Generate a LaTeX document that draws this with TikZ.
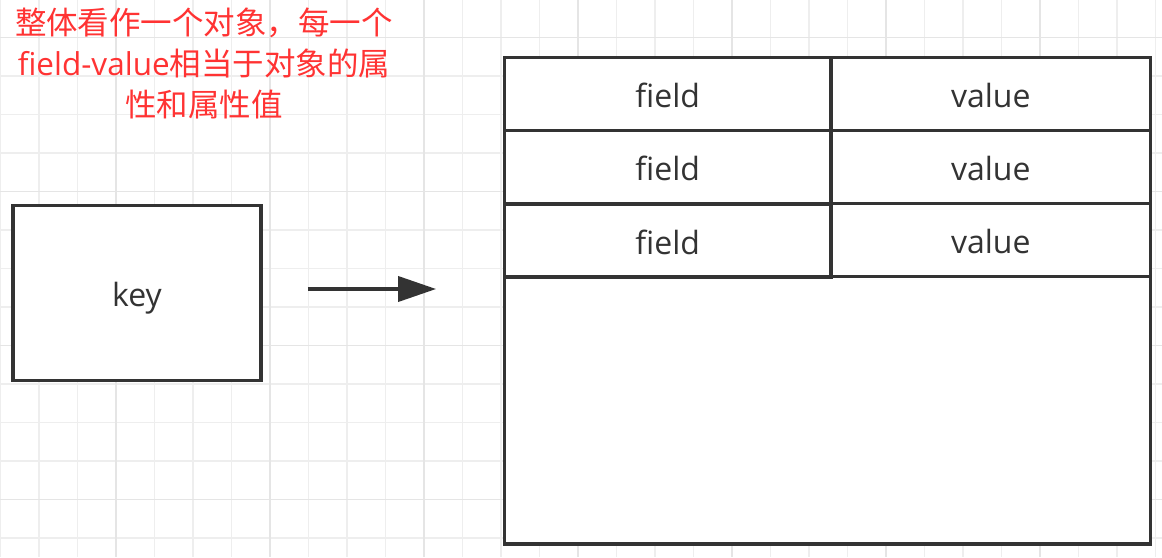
\documentclass[tikz,border=0pt]{standalone}
\usepackage{fontspec}
\setmainfont{Open Sans}
\newfontfamily\cjk{Noto Sans CJK SC}
\usetikzlibrary{arrows.meta}
\definecolor{ln}{HTML}{333333}
\definecolor{gridminor}{HTML}{EEEEEE}
\definecolor{gridmajor}{HTML}{E5E5E5}
\definecolor{note}{HTML}{FF3333}
\begin{document}
\begin{tikzpicture}[x=1pt,y=-1pt,
  box/.style={draw=ln, line width=3.8pt, fill=white, inner sep=0pt, text=ln,
    font=\fontsize{32}{38}\selectfont, text height=29pt, text depth=2pt},
  fcell/.style={box, minimum width=326.5pt, minimum height=73pt},
  vcell/.style={box, minimum width=319.5pt, minimum height=73pt},
  arr/.style={draw=ln, line width=3.8pt, -{Triangle[length=38pt,width=25pt]}},
  notetext/.style={text=note, align=center, inner sep=0pt,
    font=\fontsize{31.5}{41}\selectfont}]
\useasboundingbox[fill=white] (0,0) rectangle (1162,557);
% grid
\foreach \i in {0,...,30} \draw[gridminor, line width=1.2pt] (0.5+38.5*\i,0) -- (0.5+38.5*\i,557);
\foreach \j in {0,...,14} \draw[gridminor, line width=1.2pt] (0,-1+38.5*\j) -- (1162,-1+38.5*\j);
\foreach \i in {3,7,...,27} \draw[gridmajor, line width=1.2pt] (0.5+38.5*\i,0) -- (0.5+38.5*\i,557);
\foreach \j in {1,5,9,13} \draw[gridmajor, line width=1.2pt] (0,-1+38.5*\j) -- (1162,-1+38.5*\j);
% note
\node[notetext] (note) at (204,63) {{\cjk 整体看作一个对象，每一个}\\field-value{\cjk 相当于对象的属}\\{\cjk 性和属性值}};
% key
\node[box, minimum width=248pt, minimum height=175pt] (key) at (137,293) {key};
% table
\node[box, minimum width=646pt, minimum height=486.5pt] (tbl) at (827.5,300.75) {};
\node[vcell] (v1) at (990.75,94) {value};
\node[vcell] (v2) at (990.75,167) {value};
\node[vcell] (v3) at (990.75,240) {value};
\node[fcell] (f1) at (667.75,94) {field};
\node[fcell] (f2) at (667.75,167) {field};
\node[fcell] (f3) at (667.75,240.5) {field};
% arrow
\draw[arr] ([shift={(45,-4)}]key.east) -- ([shift={(-66.5,-11.75)}]tbl.west);
\end{tikzpicture}
\end{document}
